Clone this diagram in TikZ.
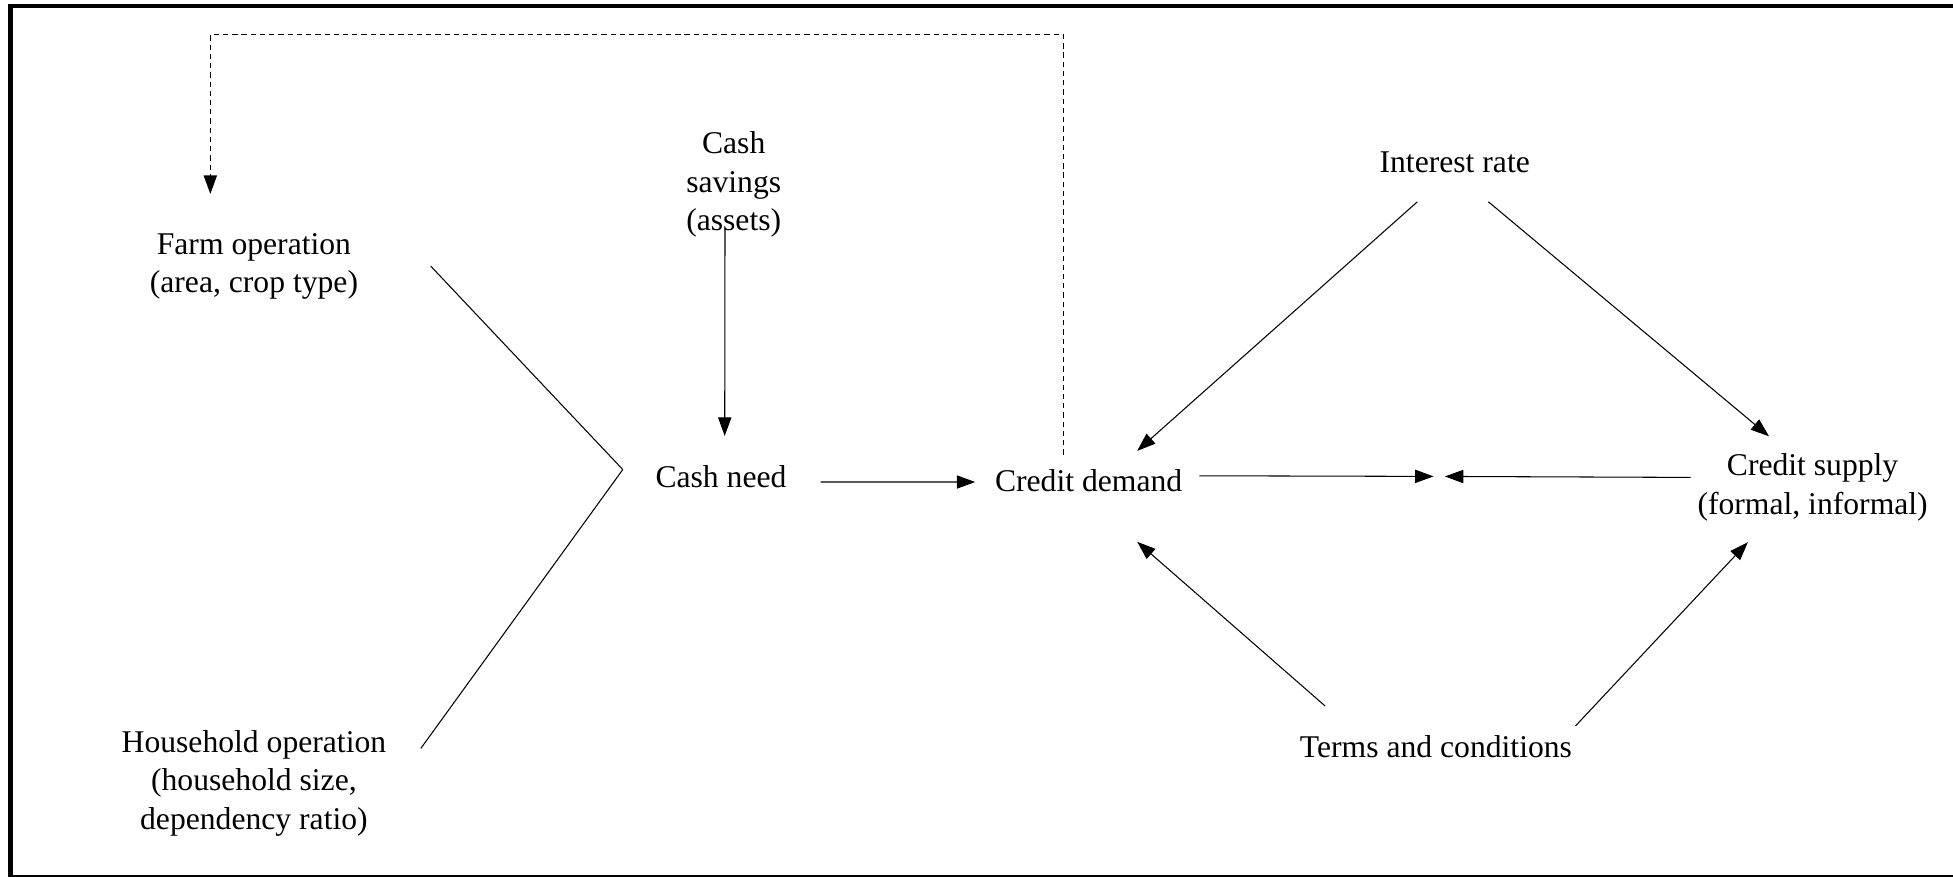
\documentclass[tikz,border=0pt]{standalone}
\usepackage{fontspec}
\setmainfont{Liberation Serif}
\usepackage{tikz}
\usetikzlibrary{arrows.meta, positioning}
\tikzstyle{arrow} = [->,>={Triangle[length=7pt,width=5pt]}]
\tikzstyle{feedback} = [arrow,dash pattern=on 2pt off 1.5pt]
\tikzstyle{factor} = [align=center, inner sep=0pt, font=\fontsize{12}{14.6}\selectfont]

\begin{document}
\begin{tikzpicture}[x=0.0166cm, y=-0.0166cm, node distance=1cm]
        \useasboundingbox (0,0) rectangle (1568,704);
        \draw [line width=1.65pt] (8.4,4.8) rectangle (1590,704.3);

        \node (demand) [factor] at (874,386) {Credit demand};
        \node (need) [factor, left of=demand, xshift=-3.9cm, yshift=0.05cm] {Cash need};
        \node (supply) [factor, right of=demand, xshift=8.65cm, yshift=-0.088cm] {Credit supply\\(formal, informal)};
        \node (savings) [factor, above of=need, xshift=0.17cm, yshift=2.9cm] {Cash\\savings\\(assets)};
        \node (farm) [factor, left of=need, xshift=-5.225cm, yshift=2.81cm] {Farm operation\\(area, crop type)};
        \node (house) [factor, below of=farm, yshift=-5.892cm] {Household operation\\(household size,\\dependency ratio)};
        \node (rate) [factor, above of=demand, xshift=4.88cm, yshift=3.25cm] {Interest rate};
        \node (terms) [factor, below of=demand, xshift=4.63cm, yshift=-2.55cm] {Terms and conditions};

        \coordinate (join) at (500,377);
        \coordinate (market) at (1155.5,382.5);

        \draw (join) -- ([shift={(142,0)}]farm.center);
        \draw (join) -- ([shift={(134,-28)}]house.center);
        \draw [arrow] ([shift={(-7,35)}]savings.center) -- ([shift={(3,-33)}]need.center);
        \draw [arrow] ([shift={(80,4)}]need.center) -- ([shift={(-91,1)}]demand.center);
        \draw [arrow, shorten >=0.075cm] ([shift={(89,-4)}]demand.center) -- (market);
        \draw [arrow, shorten >=0.075cm] ([shift={(-98,-8)}]supply.center) -- (market);
        \draw [arrow] ([shift={(-30,32)}]rate.center) -- ([shift={(39,-24)}]demand.center);
        \draw [arrow] ([shift={(27,32)}]rate.center) -- ([shift={(-35,-41)}]supply.center);
        \draw [arrow] ([shift={(-89,-33)}]terms.center) -- ([shift={(39,49)}]demand.center);
        \draw [arrow] ([shift={(112,-17)}]terms.center) -- ([shift={(-52,44)}]supply.center);
        \draw [feedback] ([shift={(-20,-21)}]demand.center) -- ++(0,-337) -| ([shift={(-35,-58)}]farm.center);
    \end{tikzpicture}
\end{document}
